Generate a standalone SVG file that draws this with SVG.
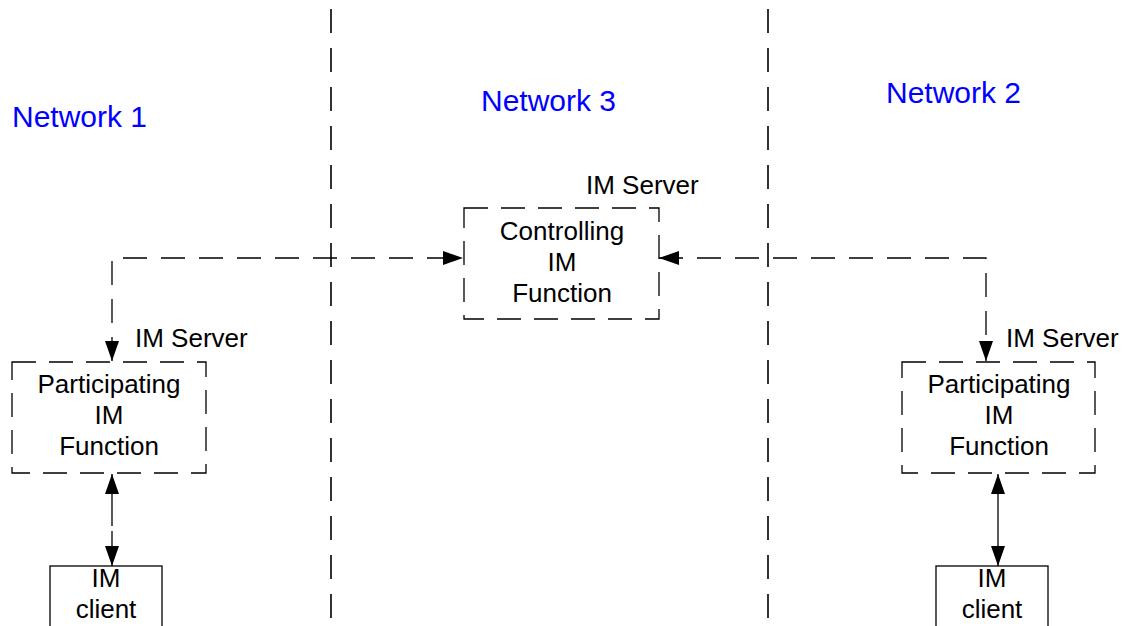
<svg xmlns="http://www.w3.org/2000/svg" width="1125" height="626" viewBox="0 0 1125 626">
<defs>
<style>
.t{font-family:"Liberation Sans",Arial,sans-serif;font-size:26px;fill:#000}
.net{font-family:"Liberation Sans",Arial,sans-serif;font-size:30px;fill:#0000ff}
.box{fill:none;stroke:#000;stroke-width:1.3;stroke-dasharray:24 13}
.solid{fill:none;stroke:#000;stroke-width:1.3}
.dl{fill:none;stroke:#000;stroke-width:1.3;stroke-dasharray:24 14}
.div{fill:none;stroke:#000;stroke-width:1.6;stroke-dasharray:24 15}
</style>
<marker id="ah" viewBox="0 0 20 14" refX="20" refY="7" markerWidth="20" markerHeight="14" markerUnits="userSpaceOnUse" orient="auto-start-reverse">
<path d="M0,0 L20,7 L0,14 Z" fill="#000"/>
</marker>
</defs>
<rect width="1125" height="626" fill="#fff"/>
<g id="dividers">
<line class="div" x1="331" y1="9" x2="331" y2="626"/>
<line class="div" x1="768" y1="9" x2="768" y2="626"/>
</g>
<g id="labels">
<text class="net" x="12" y="127">Network 1</text>
<text class="net" x="481" y="111">Network 3</text>
<text class="net" x="886" y="103">Network 2</text>
</g>
<g id="connectors">
<path class="dl" d="M112,361 V258 H463" marker-start="url(#ah)" marker-end="url(#ah)"/>
<path class="dl" d="M659,258 H986 V361" marker-start="url(#ah)" marker-end="url(#ah)"/>
<path class="dl" d="M112,474 V566" marker-start="url(#ah)" marker-end="url(#ah)" style="stroke-dasharray:52 5 100"/>
<path class="solid" d="M998,474 V566" marker-start="url(#ah)" marker-end="url(#ah)"/>
</g>
<g id="controlling">
<rect class="box" x="464" y="208" width="195" height="111"/>
<text class="t" x="586" y="194">IM Server</text>
<text class="t" x="562" y="240" text-anchor="middle">Controlling</text>
<text class="t" x="562" y="271" text-anchor="middle">IM</text>
<text class="t" x="562" y="302" text-anchor="middle">Function</text>
</g>
<g id="participating1">
<rect class="box" x="12" y="362" width="194" height="111"/>
<text class="t" x="135" y="347">IM Server</text>
<text class="t" x="109" y="393" text-anchor="middle">Participating</text>
<text class="t" x="109" y="424" text-anchor="middle">IM</text>
<text class="t" x="109" y="455" text-anchor="middle">Function</text>
</g>
<g id="participating2">
<rect class="box" x="902" y="362" width="193" height="111"/>
<text class="t" x="1006" y="347">IM Server</text>
<text class="t" x="999" y="393" text-anchor="middle">Participating</text>
<text class="t" x="999" y="424" text-anchor="middle">IM</text>
<text class="t" x="999" y="455" text-anchor="middle">Function</text>
</g>
<g id="client1">
<rect class="solid" x="50" y="566" width="112" height="70"/>
<text class="t" x="106" y="587" text-anchor="middle">IM</text>
<text class="t" x="106" y="618" text-anchor="middle">client</text>
</g>
<g id="client2">
<rect class="solid" x="936" y="566" width="112" height="70"/>
<text class="t" x="992" y="587" text-anchor="middle">IM</text>
<text class="t" x="992" y="618" text-anchor="middle">client</text>
</g>
</svg>
